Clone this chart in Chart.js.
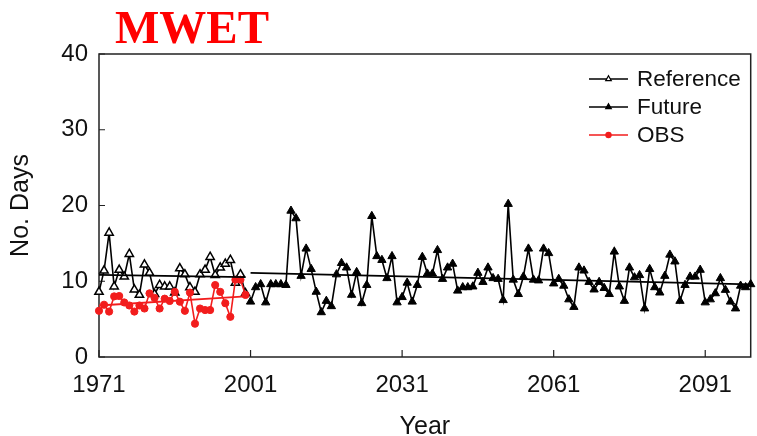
<!DOCTYPE html>
<html>
<head>
<meta charset="utf-8">
<script src="https://cdn.jsdelivr.net/npm/chart.js@4.4.1/dist/chart.umd.min.js"></script>
<style>
  html, body { margin: 0; padding: 0; background: #fff; }
  #wrap { width: 757px; height: 436px; }
</style>
</head>
<body>
<div id="wrap"><canvas id="c" width="757" height="436"></canvas></div>
<script>
// ---- data ----
const chartTitle = 'MWET';
const xTickYears = [1971, 2001, 2031, 2061, 2091];
const yTickValues = [0, 10, 20, 30, 40];

const referenceStart = 1971;
const referenceDays = [8.6, 11.4, 16.4, 9.3, 11.5, 10.6, 13.6, 8.9, 8.2, 12.2,
                       11.1, 8.3, 9.5, 9.3, 9.3, 8.5, 11.7, 10.9, 9.2, 8.6,
                       10.9, 11.5, 13.2, 10.8, 11.8, 12.3, 12.8, 9.8, 10.9, 8.4];

const obsStart = 1971;
const obsDays = [6.1, 6.9, 6.0, 8.0, 8.05, 7.2, 6.8, 6.0, 6.8, 6.4,
                 8.4, 7.8, 6.4, 7.7, 7.4, 8.6, 7.3, 6.1, 8.5, 4.4,
                 6.4, 6.2, 6.2, 9.5, 8.6, 7.1, 5.3, 10.2, 10.2, 8.2];

const futureStart = 2001;
const futureDays = [7.3, 9.2, 9.6, 7.2, 9.6, 9.6, 9.6, 9.5, 19.3, 18.3,
                    10.7, 14.3, 11.6, 8.6, 5.9, 7.4, 6.7, 10.9, 12.4, 11.8,
                    8.2, 11.2, 7.1, 9.5, 18.6, 13.3, 12.8, 10.4, 13.3, 7.2,
                    7.9, 9.8, 7.3, 9.5, 13.2, 11.0, 11.0, 14.1, 10.3, 11.8,
                    12.3, 8.75, 9.2, 9.2, 9.3, 11.1, 9.9, 11.8, 10.4, 10.3,
                    7.5, 20.2, 10.2, 8.3, 10.6, 14.3, 10.2, 10.1, 14.3, 13.7,
                    9.7, 10.3, 9.4, 7.6, 6.6, 11.8, 11.4, 9.9, 8.9, 9.9,
                    9.1, 8.3, 13.9, 9.3, 7.4, 11.8, 10.5, 10.8, 6.4, 11.6,
                    9.2, 8.5, 10.7, 13.5, 12.6, 7.4, 9.5, 10.6, 10.6, 11.5,
                    7.2, 7.6, 8.4, 10.4, 8.85, 7.3, 6.4, 9.4, 9.2, 9.6];

// linear trend lines: [start year, end year] and [start value, end value]
const referenceTrendYears = [1971, 2000];
const referenceTrendDays = [10.85, 10.55];
const obsTrendYears = [1971, 2000];
const obsTrendDays = [6.8, 8.0];
const futureTrendYears = [2001, 2100];
const futureTrendDays = [11.1, 9.6];

// ---- helpers ----
const toPoints = (start, values) => values.map((v, i) => ({ x: start + i, y: v }));
const pairPoints = (xs, ys) => xs.map((x, i) => ({ x: x, y: ys[i] }));

const RED = '#f21d1d';
const INK = '#111';
const SANS = '"Liberation Sans", Arial, Helvetica, sans-serif';

// frame round the plot and inward tick marks
const framePlugin = {
  id: 'frame',
  beforeDatasetsDraw(chart) {
    const { ctx, chartArea: a, scales } = chart;
    ctx.save();
    ctx.strokeStyle = '#222';
    ctx.lineWidth = 1.5;
    ctx.strokeRect(a.left, a.top, a.right - a.left, a.bottom - a.top);
    ctx.lineWidth = 1.2;
    ctx.beginPath();
    scales.x.ticks.forEach((t, i) => {
      const px = scales.x.getPixelForTick(i);
      ctx.moveTo(px, a.bottom);
      ctx.lineTo(px, a.bottom - 7);
    });
    scales.y.ticks.forEach((t, i) => {
      const py = scales.y.getPixelForTick(i);
      ctx.moveTo(a.left, py);
      ctx.lineTo(a.left + 6, py);
    });
    ctx.stroke();
    ctx.restore();
  }
};

// red serif heading
const headingPlugin = {
  id: 'heading',
  afterDraw(chart) {
    const { ctx } = chart;
    ctx.save();
    ctx.fillStyle = '#ff0000';
    ctx.font = 'bold 47px "Liberation Serif", "Times New Roman", serif';
    ctx.textBaseline = 'alphabetic';
    ctx.textAlign = 'left';
    ctx.fillText(chartTitle, 115, 43);
    ctx.restore();
  }
};

// legend: short line with marker, then the label
const legendPlugin = {
  id: 'lineLegend',
  afterDraw(chart) {
    const { ctx } = chart;
    const entries = chart.data.datasets.filter(d => d.inLegend);
    const x0 = 589, x1 = 628, textX = 637, y0 = 79, step = 28;
    ctx.save();
    entries.forEach((d, i) => {
      const y = y0 + i * step;
      ctx.strokeStyle = d.borderColor;
      ctx.lineWidth = 1.5;
      ctx.beginPath();
      ctx.moveTo(x0, y);
      ctx.lineTo(x1, y);
      ctx.stroke();
      ctx.fillStyle = d.pointBackgroundColor;
      ctx.strokeStyle = d.pointBorderColor;
      ctx.lineWidth = 1.2;
      Chart.helpers.drawPoint(ctx, {
        pointStyle: d.pointStyle,
        radius: d.legendRadius,
        borderWidth: 1.2,
        rotation: 0
      }, (x0 + x1) / 2, y);
      ctx.fillStyle = INK;
      ctx.font = '22.5px ' + SANS;
      ctx.textBaseline = 'middle';
      ctx.textAlign = 'left';
      ctx.fillText(d.label, textX, y + 1);
    });
    ctx.restore();
  }
};

new Chart(document.getElementById('c'), {
  type: 'line',
  data: {
    datasets: [
      {
        label: 'Reference', inLegend: true, legendRadius: 3.2,
        data: toPoints(referenceStart, referenceDays),
        borderColor: '#000', borderWidth: 1.6,
        pointStyle: 'triangle', pointRadius: 4.8,
        pointBackgroundColor: '#fff', pointBorderColor: '#000', pointBorderWidth: 1.5,
        tension: 0, clip: false, order: 3
      },
      {
        label: 'Future', inLegend: true, legendRadius: 3.2,
        data: toPoints(futureStart, futureDays),
        borderColor: '#000', borderWidth: 1.6,
        pointStyle: 'triangle', pointRadius: 4.8,
        pointBackgroundColor: '#000', pointBorderColor: '#000', pointBorderWidth: 1,
        tension: 0, clip: false, order: 1
      },
      {
        label: 'OBS', inLegend: true, legendRadius: 2.6,
        data: toPoints(obsStart, obsDays),
        borderColor: RED, borderWidth: 1.6,
        pointStyle: 'circle', pointRadius: 3.6,
        pointBackgroundColor: RED, pointBorderColor: RED, pointBorderWidth: 1,
        tension: 0, clip: false, order: 2
      },
      {
        label: 'Reference trend',
        data: pairPoints(referenceTrendYears, referenceTrendDays),
        borderColor: '#000', borderWidth: 1.8, pointRadius: 0, order: 0
      },
      {
        label: 'OBS trend',
        data: pairPoints(obsTrendYears, obsTrendDays),
        borderColor: RED, borderWidth: 1.8, pointRadius: 0, order: 0
      },
      {
        label: 'Future trend',
        data: pairPoints(futureTrendYears, futureTrendDays),
        borderColor: '#000', borderWidth: 1.8, pointRadius: 0, order: 0
      }
    ]
  },
  options: {
    responsive: false,
    animation: false,
    devicePixelRatio: 1,
    layout: { padding: { top: 54, right: 2, left: 0, bottom: 0 } },
    plugins: { legend: { display: false }, tooltip: { enabled: false }, title: { display: false } },
    scales: {
      x: {
        type: 'linear', min: 1971, max: 2100,
        afterBuildTicks: s => { s.ticks = xTickYears.map(v => ({ value: v })); },
        afterFit: s => { s.height = 79; },
        grid: { display: false, drawTicks: false }, border: { display: false },
        ticks: { color: INK, font: { family: SANS, size: 24 }, padding: 14, maxRotation: 0,
                 callback: v => String(v) },
        title: { display: true, text: 'Year', color: INK, font: { family: SANS, size: 25 },
                 padding: { top: 0, bottom: -6 } }
      },
      y: {
        min: 0, max: 40,
        afterBuildTicks: s => { s.ticks = yTickValues.map(v => ({ value: v })); },
        afterFit: s => { s.width = 99; },
        grid: { display: false, drawTicks: false }, border: { display: false },
        ticks: { color: INK, font: { family: SANS, size: 24 }, padding: 11 },
        title: { display: true, text: 'No. Days', color: INK, font: { family: SANS, size: 25 },
                 padding: { top: 6, bottom: 0 } }
      }
    }
  },
  plugins: [framePlugin, headingPlugin, legendPlugin]
});
</script>
</body>
</html>
